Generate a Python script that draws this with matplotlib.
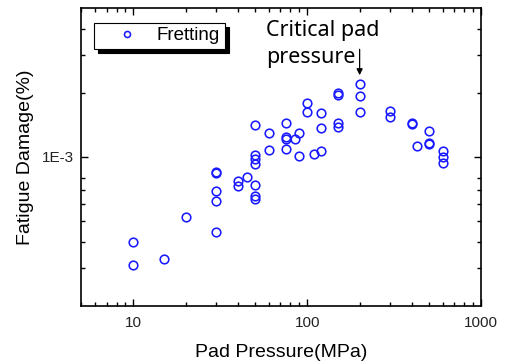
import numpy as np
import matplotlib
matplotlib.use("Agg")
import matplotlib.pyplot as plt
from matplotlib.ticker import FixedLocator, FuncFormatter, NullFormatter

# pad pressure (MPa) and fatigue damage (%)
pressure = [10, 10, 15, 20,
            30, 30, 30, 30, 30,
            40, 40, 45,
            50, 50, 50, 50, 50, 50, 50,
            60, 60, 75, 75, 75, 75, 85, 90, 90,
            100, 100, 110, 120, 120, 120,
            150, 150, 150, 150, 200, 200, 200,
            300, 300, 400, 400, 430, 500, 500, 500,
            600, 600, 600]
damage = [4.0e-4, 3.12e-4, 3.31e-4, 5.23e-4,
          8.53e-4, 8.38e-4, 6.93e-4, 6.22e-4, 4.43e-4,
          7.72e-4, 7.31e-4, 8.09e-4,
          1.42e-3, 1.02e-3, 9.75e-4, 9.27e-4, 7.39e-4, 6.59e-4, 6.34e-4,
          1.30e-3, 1.075e-3, 1.45e-3, 1.245e-3, 1.21e-3, 1.094e-3, 1.21e-3, 1.30e-3, 1.015e-3,
          1.80e-3, 1.63e-3, 1.037e-3, 1.60e-3, 1.37e-3, 1.07e-3,
          2.00e-3, 1.946e-3, 1.45e-3, 1.38e-3, 2.19e-3, 1.93e-3, 1.63e-3,
          1.64e-3, 1.545e-3, 1.45e-3, 1.43e-3, 1.126e-3, 1.32e-3, 1.167e-3, 1.155e-3,
          1.07e-3, 1.0036e-3, 9.4e-4]

series_label = "Fretting"
note = "Critical pad\npressure"
x_label = "Pad Pressure(MPa)"
y_label = "Fatigue Damage(%)"

plt.rcParams['font.family'] = ['Liberation Sans', 'DejaVu Sans']

fig = plt.figure(figsize=(5.07, 3.63), dpi=100)
ax = fig.add_axes([0.16, 0.157, 0.789, 0.821])

ax.plot(pressure, damage, linestyle='none', marker='o', markersize=6.2,
        markerfacecolor='none', markeredgecolor='#1a1aff', markeredgewidth=1.15,
        label=series_label)

ax.set_xscale('log')
ax.set_yscale('log')
ax.set_xlim(5, 1000)
ax.set_ylim(2e-4, 5e-3)

ax.yaxis.set_major_locator(FixedLocator([1e-3]))
ax.yaxis.set_major_formatter(FuncFormatter(lambda v, p: "1E-3"))
ax.yaxis.set_minor_locator(FixedLocator([3e-4, 4e-4, 5e-4, 6e-4, 7e-4, 8e-4, 2e-3, 3e-3, 4e-3]))
ax.yaxis.set_minor_formatter(NullFormatter())
ax.xaxis.set_major_formatter(FuncFormatter(lambda v, p: "%d" % v))
ax.xaxis.set_minor_formatter(NullFormatter())

ax.tick_params(which='both', direction='in', top=True, right=True,
               labelsize=11, labelcolor='#222222', width=1.0)
ax.tick_params(which='major', length=5, pad=7)
ax.tick_params(which='minor', length=3)
ax.tick_params(axis='y', which='major', pad=5)
for s in ax.spines.values():
    s.set_linewidth(1.2)

ax.set_xlabel(x_label, fontsize=14, labelpad=10)
ax.set_ylabel(y_label, fontsize=14, labelpad=6)

# boxed legend with a solid black drop shadow
leg = ax.legend(loc='upper left', bbox_to_anchor=(0.0325, 0.951), borderaxespad=0,
                fancybox=False, edgecolor='black', framealpha=1, fontsize=13.5,
                handlelength=3, handletextpad=0.1, borderpad=0.25, markerscale=0.7,
                shadow={'color': 'black', 'alpha': 1, 'ox': 3, 'oy': -3})
leg.get_frame().set_linewidth(0.8)

ax.text(0.4625, 0.96, note, transform=ax.transAxes, ha='left', va='top',
        fontsize=15.5, family=['Noto Sans', 'DejaVu Sans'], linespacing=1.4)
ax.annotate('', xy=(200, 2.42e-3), xytext=(200, 3.2e-3),
            arrowprops=dict(arrowstyle='-|>', color='black', lw=0.9,
                            mutation_scale=9, shrinkA=0, shrinkB=0))

fig.savefig('out.png', dpi=100)
